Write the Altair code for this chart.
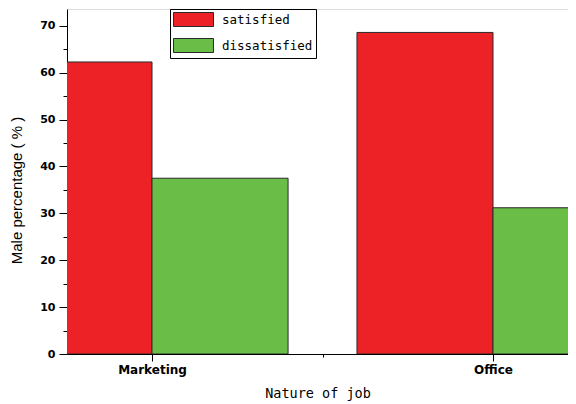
import altair as alt
import pandas as pd

# ---- data ----
categories = ["Marketing", "Office"]
series = ["satisfied", "dissatisfied"]
satisfied = [62.3, 68.6]
dissatisfied = [37.5, 31.2]
colors = ["#EC2227", "#6ABD46"]

# ---- build table (positions derived from category index) ----
bar_w = 0.399
rows = []
for i, cat in enumerate(categories):
    pos = i + 1
    rows.append({"job": cat, "series": series[0], "value": satisfied[i], "x0": pos - bar_w, "x1": pos})
    rows.append({"job": cat, "series": series[1], "value": dissatisfied[i], "x0": pos, "x1": pos + bar_w})
df = pd.DataFrame(rows)

label_expr = " : ".join(
    [f"datum.value == {i + 1} ? '{c}'" for i, c in enumerate(categories)]
) + " : ''"

x_ticks = [1, 1.5, 2]
y_ticks = list(range(0, 75, 5))

chart = (
    alt.Chart(df)
    .mark_rect(stroke="#2a2a2a", strokeWidth=1, clip=True)
    .encode(
        x=alt.X(
            "x0:Q",
            scale=alt.Scale(domain=[0.7507, 2.2199], nice=False, zero=False),
            axis=alt.Axis(
                values=x_ticks,
                labelExpr=label_expr,
                title="Nature of job",
                grid=False,
                tickSize={"condition": {"test": "datum.value == 1.5", "value": 3}, "value": 7},
                labelPadding=3,
                labelFont="DejaVu Sans",
                labelFontWeight="bold",
                labelFontSize=12,
                labelColor="black",
                titleFont="DejaVu Sans Mono",
                titleFontWeight="normal",
                titleFontSize=13.5,
                titleColor="black",
                titleBaseline="alphabetic",
                titleY=43,
                domainColor="black",
                tickColor="black",
            ),
        ),
        x2="x1:Q",
        y=alt.Y(
            "value:Q",
            scale=alt.Scale(domain=[0, 73.6], nice=False),
            axis=alt.Axis(
                values=y_ticks,
                labelExpr="datum.value % 10 == 0 ? datum.label : ''",
                title="Male percentage ( % )",
                grid=False,
                tickSize={"condition": {"test": "datum.value % 10 == 0", "value": 8}, "value": 4},
                labelPadding=4,
                labelFont="DejaVu Sans",
                labelFontWeight="bold",
                labelFontSize=11,
                labelColor="black",
                titleFont="Liberation Sans",
                titleFontWeight="normal",
                titleFontSize=15,
                titleColor="black",
                titleX=-43,
                titleY=181,
                domainColor="black",
                tickColor="black",
            ),
        ),
        y2=alt.datum(0),
        fill=alt.Fill(
            "series:N",
            scale=alt.Scale(domain=series, range=colors),
            sort=series,
            legend=alt.Legend(
                title=None,
                orient="none",
                legendX=103,
                legendY=0,
                padding=3,
                strokeColor="black",
                fillColor="white",
                symbolType="M-1,-1L4.714,-1L4.714,1L-1,1Z",
                symbolSize=196,
                symbolStrokeColor="#2a2a2a",
                symbolStrokeWidth=1,
                symbolOpacity=1,
                labelOffset=34,
                labelFont="DejaVu Sans Mono",
                labelFontSize=12.5,
                labelColor="black",
                rowPadding=7,
            ),
        ),
    )
    .properties(
        width=501,
        height=345,
        autosize=alt.AutoSizeParams(type="none"),
        padding={"left": 59, "top": 1, "right": 0, "bottom": 47},
    )
    .configure_view(stroke="black", strokeWidth=1)
    .configure(background="white")
)

chart.save("out.html", embed_options={"renderer": "svg", "actions": False})
